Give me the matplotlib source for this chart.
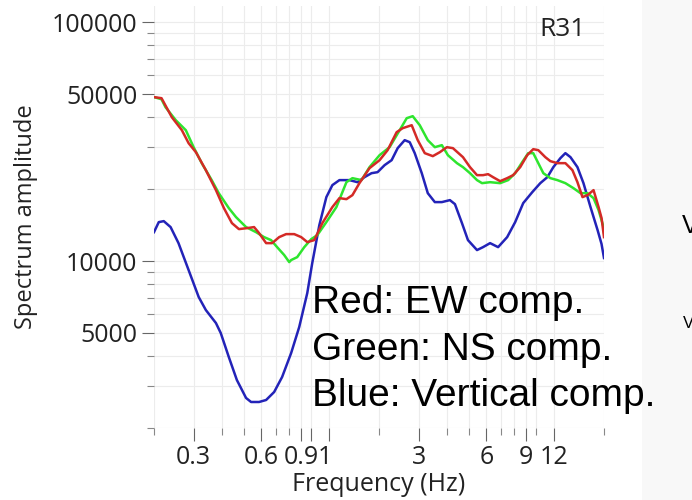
from matplotlib import pyplot as plt
from matplotlib import ticker
from matplotlib import transforms
from matplotlib.patches import Rectangle

# EW component (red)
ew_freq = [0.2, 0.216, 0.240, 0.266, 0.285, 0.307, 0.340, 0.377, 0.409, 0.444,
           0.477, 0.518, 0.557, 0.586, 0.630, 0.670, 0.720, 0.773, 0.840, 0.902,
           0.960, 1.031, 1.120, 1.241, 1.334, 1.433, 1.524, 1.637, 1.815, 2.012,
           2.184, 2.396, 2.548, 2.795, 2.973, 3.195, 3.469, 3.728, 4.006, 4.261,
           4.723, 5.075, 5.453, 5.800, 6.107, 6.427, 6.908, 7.424, 7.894, 8.484,
           9.117, 9.696, 10.21, 10.97, 11.55, 12.41, 13.47, 14.48, 15.24, 16.05,
           16.89, 17.97, 18.92, 19.51, 20.0]
ew_amp = [48600, 48100, 40050, 35330, 31170, 28580, 24030, 19820, 16670, 14420,
          13610, 13740, 13880, 13100, 11890, 11890, 12600, 12970, 12970, 12600,
          12010, 12240, 14420, 16830, 18350, 18170, 18890, 21200, 24500, 26460,
          29140, 34660, 36020, 37070, 32090, 28310, 27510, 28580, 29990, 29710,
          27240, 24740, 22900, 22900, 23120, 22460, 21610, 22250, 22900, 24740,
          27770, 29420, 29140, 27240, 26210, 25710, 25710, 24030, 21400, 18530,
          18890, 19820, 16830, 15130, 12600]

# NS component (green)
ns_freq = [0.2, 0.216, 0.225, 0.250, 0.277, 0.300, 0.326, 0.361, 0.388, 0.430,
           0.463, 0.513, 0.568, 0.617, 0.663, 0.705, 0.758, 0.798, 0.814, 0.866,
           0.931, 1.0, 1.064, 1.167, 1.293, 1.433, 1.524, 1.672, 1.815, 2.012,
           2.229, 2.471, 2.656, 2.824, 3.035, 3.295, 3.541, 3.805, 4.047, 4.441,
           4.723, 5.075, 5.453, 5.740, 6.234, 6.908, 7.499, 8.058, 8.660, 9.211,
           9.696, 10.21, 10.75, 11.55, 12.41, 13.47, 14.63, 15.72, 16.89, 17.97,
           18.92, 19.91, 20.0]
ns_amp = [48600, 47600, 44100, 38900, 35330, 29990, 25710, 21830, 19250, 16670,
          15280, 13880, 13220, 12600, 12240, 11440, 10600, 9904, 10100, 10390,
          11440, 12360, 12850, 14560, 16830, 21400, 22250, 21830, 24740, 27770,
          29990, 35330, 39670, 40440, 37070, 32090, 29990, 30580, 27770, 25710,
          24740, 23340, 21830, 21200, 21400, 21200, 21830, 23340, 25960, 28310,
          28310, 25710, 23340, 22250, 21830, 21200, 20200, 19250, 19250, 18350,
          16350, 13880, 13200]

# Vertical component (blue)
ud_freq = [0.2, 0.210, 0.221, 0.237, 0.257, 0.285, 0.316, 0.340, 0.377, 0.396,
           0.430, 0.467, 0.513, 0.540, 0.586, 0.630, 0.684, 0.742, 0.814, 0.884,
           0.960, 1.010, 1.086, 1.167, 1.241, 1.334, 1.478, 1.605, 1.724, 1.853,
           1.971, 2.118, 2.276, 2.421, 2.601, 2.739, 2.883, 3.098, 3.295, 3.541,
           3.805, 4.132, 4.350, 4.675, 4.971, 5.453, 5.800, 6.234, 6.767, 7.424,
           8.058, 8.750, 9.600, 10.42, 11.20, 11.91, 12.80, 13.47, 14.19, 15.24,
           16.21, 17.42, 18.73, 19.5, 20.0]
ud_amp = [13220, 14560, 14700, 13880, 11890, 9170, 7070, 6237, 5502, 4997,
          3966, 3177, 2672, 2570, 2570, 2620, 2830, 3270, 4122, 5295,
          7348, 9810, 14140, 18530, 20800, 21830, 21830, 21400, 22460, 23340,
          23570, 25220, 26460, 29710, 32090, 31470, 28310, 23340, 19250, 17660,
          17660, 18000, 17320, 14420, 12240, 11120, 11440, 11890, 11440, 12600,
          14560, 17490, 19440, 21200, 22460, 24740, 26980, 28310, 27240, 24740,
          21200, 16830, 13480, 11800, 10300]

x_major = [0.3, 0.6, 0.9, 1, 1.2, 3, 6, 9, 12]
x_labels = ["0.3", "0.6", "0.9", "1", "", "3", "6", "9", "12"]
x_minor = [0.2, 0.4, 0.5, 0.7, 0.8, 2, 4, 5, 7, 8, 10, 20]
y_major = [5000, 10000, 50000, 100000]
y_minor = [2000, 3000, 4000, 6000, 7000, 8000, 9000, 20000, 30000, 40000,
           60000, 70000, 80000, 90000]

label_font = "Open Sans"

fig = plt.figure(figsize=(6.92, 5.0), dpi=100)
fig.patches.append(Rectangle((642 / 692, 0), 1, 1, transform=fig.transFigure,
                             facecolor="#f8f8f8", edgecolor="none", zorder=-1))
ax = fig.add_axes([154 / 692, 72 / 500, 450 / 692, 422 / 500])

ax.plot(ud_freq, ud_amp, color="#2323b8", lw=1.8, zorder=3)
ax.plot(ns_freq, ns_amp, color="#2ee52e", lw=1.8, zorder=4)
ax.plot(ew_freq, ew_amp, color="#d42a26", lw=1.8, zorder=5)

ax.set_xscale("log")
ax.set_yscale("log")
ax.set_xlim(0.2, 20)
ax.set_ylim(2000, 117000)

ax.xaxis.set_major_locator(ticker.FixedLocator(x_major))
ax.xaxis.set_major_formatter(ticker.FixedFormatter(x_labels))
ax.xaxis.set_minor_locator(ticker.FixedLocator(x_minor))
ax.xaxis.set_minor_formatter(ticker.NullFormatter())
ax.yaxis.set_major_locator(ticker.FixedLocator(y_major))
ax.yaxis.set_major_formatter(ticker.FixedFormatter([str(v) for v in y_major]))
ax.yaxis.set_minor_locator(ticker.FixedLocator(y_minor))
ax.yaxis.set_minor_formatter(ticker.NullFormatter())

for s in ax.spines.values():
    s.set_visible(False)
ax.tick_params(which="major", length=9, width=0.8, color="#666666",
               labelsize=18, labelcolor="#222222", pad=3)
ax.tick_params(which="minor", length=5, width=0.8, color="#888888")
for lab in ax.get_xticklabels() + ax.get_yticklabels():
    lab.set_fontfamily(label_font)

# the "1" label sits just right of its tick so it doesn't run into "0.9"
shift = transforms.ScaledTranslation(0.14, 0, fig.dpi_scale_trans)
one_label = ax.get_xticklabels()[x_major.index(1)]
one_label.set_transform(one_label.get_transform() + shift)

ax.grid(which="both", color="#ececec", lw=0.8)
ax.set_axisbelow(True)

ax.set_xlabel("Frequency (Hz)", fontsize=18, family=label_font, color="#222222", labelpad=2)
ax.set_ylabel("Spectrum amplitude", fontsize=17, family=label_font, color="#222222", labelpad=10)

ax.text(0.908, 0.975, "R31", transform=ax.transAxes, ha="center", va="top",
        fontsize=19, family=label_font, color="#222222")

legend_lines = ["Red: EW comp.", "Green: NS comp.", "Blue: Vertical comp."]
for i, line in enumerate(legend_lines):
    fig.text(312 / 692, 1 - (303 + 46.5 * i) / 500, line, fontsize=28,
             family="Liberation Sans", color="black", va="center", ha="left")

# pieces of the neighbouring panel's text cut by the edge
fig.text(682 / 692, 1 - 226 / 500, "V", fontsize=18, family="Liberation Sans", va="center")
fig.text(683 / 692, 1 - 323 / 500, "V", fontsize=12, family="Liberation Sans", va="center")

fig.savefig("out.png", dpi=100)
